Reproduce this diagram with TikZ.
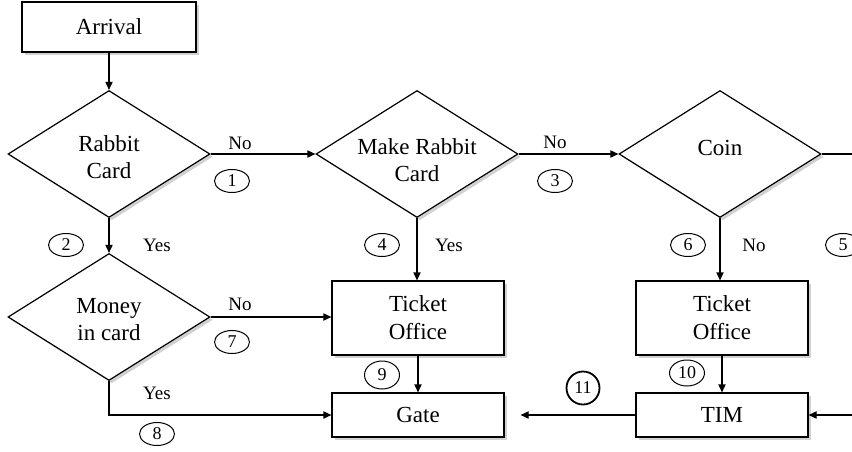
\documentclass[tikz,border=0pt]{standalone}
\usepackage{fontspec}
\setmainfont{Liberation Serif}
\usetikzlibrary{shapes.geometric,shadows,arrows.meta}
\begin{document}
\begin{tikzpicture}[x=0.5pt,y=-0.5pt,
  shd/.style={drop shadow={opacity=0.3,fill=black!60,shadow xshift=1.4pt,shadow yshift=-1.4pt}},
  box/.style={draw,line width=0.6pt,fill=white,inner sep=0pt,align=center,font=\fontsize{11.5}{14}\selectfont,shd},
  dia/.style={draw,line width=0.6pt,fill=white,shape=diamond,inner sep=0pt,minimum width=101pt,minimum height=63.5pt,shape aspect=1.59,shd},
  dtext/.style={align=center,font=\fontsize{11.5}{13.5}\selectfont,inner sep=0pt},
  lab/.style={font=\fontsize{9.5}{11}\selectfont,inner sep=0pt},
  num/.style={draw,line width=0.5pt,shape=ellipse,minimum width=17.5pt,minimum height=11.5pt,inner sep=0pt,font=\fontsize{9}{10}\selectfont},
  arr/.style={line width=0.6pt,-{Triangle[length=4pt,width=3.6pt]}},
  ln/.style={line width=0.6pt}]
\useasboundingbox (0,0) rectangle (852,451);
% nodes
\node[box,minimum width=87pt,minimum height=25pt] (arr) at (109,27) {Arrival};
\node[dia] (rc) at (109,154) {};
\node[dtext] (rct) at (109,157) {Rabbit\\Card};
\node[dia] (mrc) at (417,154) {};
\node[dtext] (mrct) at (417,160) {Make Rabbit\\Card};
\node[dia] (coin) at (720,154) {};
\node[dtext] (coint) at (720,148) {Coin};
\node[dia] (money) at (109,317) {};
\node[dtext] (moneyt) at (109,320) {Money\\in card};
\node[box,minimum width=86pt,minimum height=37pt] (to1) at (418,318) {Ticket\\Office};
\node[box,minimum width=86pt,minimum height=37pt] (to2) at (722,318) {Ticket\\Office};
\node[box,minimum width=86pt,minimum height=22pt] (gate) at (418,415) {Gate};
\node[box,minimum width=86pt,minimum height=22pt] (tim) at (722,415) {TIM};
\coordinate (e1) at (852,154);
\coordinate (e2) at (852,415);
% connectors
\draw[arr] (arr.south) -- (rc.north);
\draw[arr] (rc.east) -- (mrc.west);
\draw[arr] (mrc.east) -- (coin.west);
\draw[ln] (coin.east) -- (e1);
\draw[arr] (rc.south) -- (money.north);
\draw[arr] (mrc.south) -- (mrc.south |- to1.north);
\draw[arr] (coin.south) -- (coin.south |- to2.north);
\draw[arr] (money.east) -- (money.east -| to1.west);
\draw[arr] (money.south) |- (gate.west);
\draw[arr] (to1.south) -- (gate.north);
\draw[arr] (to2.south) -- (tim.north);
\draw[arr,shorten >=8pt] (tim.west) -- (gate.east);
\draw[arr] (e2) -- (tim.east);
% labels
\node[lab] (l1) at (240,143) {No};
\node[lab] (l3) at (555,142) {No};
\node[lab] (l2) at (157,245) {Yes};
\node[lab] (l4) at (449,245) {Yes};
\node[lab] (l6) at (754,245) {No};
\node[lab] (l7) at (240,304) {No};
\node[lab] (l8) at (157,393) {Yes};
% numbers
\node[num] (n1) at (232,181) {1};
\node[num] (n2) at (66,245) {2};
\node[num] (n3) at (555,181) {3};
\node[num] (n4) at (382,245) {4};
\node[num] (n5) at (843,245) {5};
\node[num] (n6) at (688,245) {6};
\node[num] (n7) at (232,342) {7};
\node[num] (n8) at (157,434) {8};
\node[num,minimum height=14pt] (n9) at (382,375) {9};
\node[num,minimum height=13pt] (n10) at (687,373) {10};
\node[draw,circle,line width=0.9pt,minimum size=16.5pt,inner sep=0pt,font=\fontsize{9}{10}\selectfont] (n11) at (583,388) {11};
\end{tikzpicture}
\end{document}
